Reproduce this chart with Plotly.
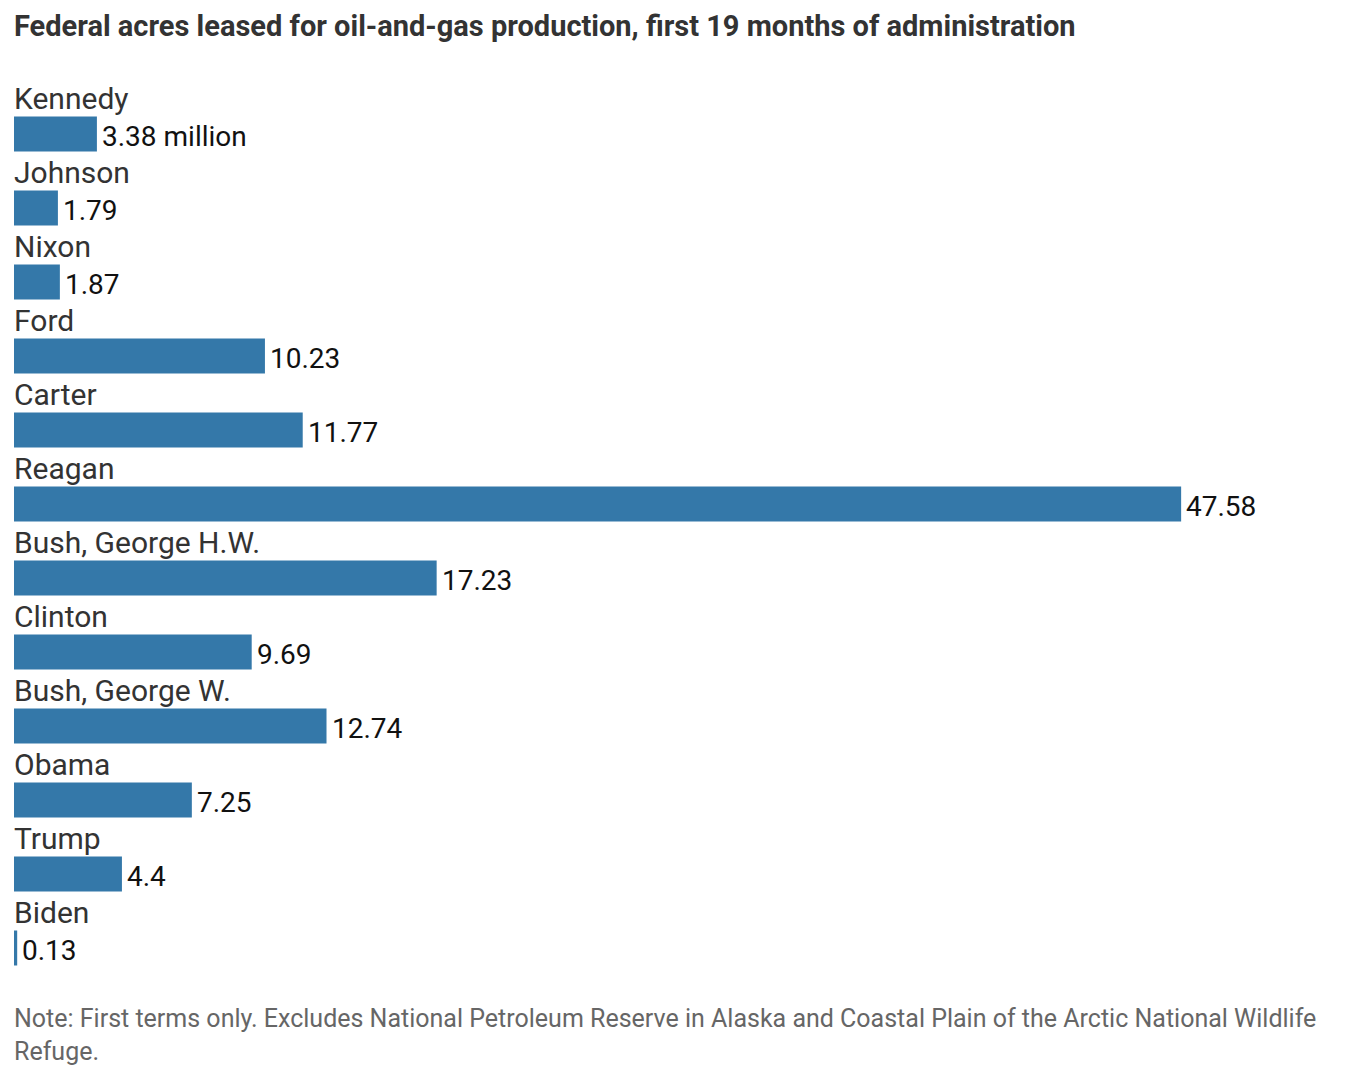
import plotly.graph_objects as go

presidents = ["Kennedy", "Johnson", "Nixon", "Ford", "Carter", "Reagan",
              "Bush, George H.W.", "Clinton", "Bush, George W.", "Obama", "Trump", "Biden"]
acres_millions = [3.38, 1.79, 1.87, 10.23, 11.77, 47.58, 17.23, 9.69, 12.74, 7.25, 4.4, 0.13]
value_labels = ["3.38 million", "1.79", "1.87", "10.23", "11.77", "47.58", "17.23",
                "9.69", "12.74", "7.25", "4.4", "0.13"]

title_text = "Federal acres leased for oil-and-gas production, first 19 months of administration"
note_text = ("Note: First terms only. Excludes National Petroleum Reserve in Alaska and Coastal Plain "
             "of the Arctic National Wildlife<br>Refuge.")

FONT = "Roboto"
BAR_COLOR = "#3478a9"

fig = go.Figure()
fig.add_trace(go.Bar(
    x=acres_millions,
    y=presidents,
    orientation="h",
    marker=dict(color=BAR_COLOR, line=dict(width=0)),
    hoverinfo="skip",
))

for name, val, lab in zip(presidents, acres_millions, value_labels):
    fig.add_annotation(
        x=0, y=name, xref="x", yref="y",
        text=name, showarrow=False,
        xanchor="left", yanchor="middle", yshift=36, xshift=-2,
        font=dict(family=FONT, size=30, color="#333333"),
    )
    fig.add_annotation(
        x=val, y=name, xref="x", yref="y",
        text=lab, showarrow=False,
        xanchor="left", yanchor="middle", yshift=-2, xshift=3,
        font=dict(family=FONT, size=28, color="#111111"),
    )

fig.add_annotation(
    x=0, y=1, xref="paper", yref="paper", xanchor="left", yanchor="top",
    text="<b>" + title_text + "</b>", showarrow=False, xshift=-2,
    yshift=90, font=dict(family=FONT, size=29, color="#333333"),
)
fig.add_annotation(
    x=0, y=0, xref="paper", yref="paper", xanchor="left", yanchor="top",
    text=note_text, showarrow=False, align="left", xshift=-2,
    yshift=-17, font=dict(family=FONT, size=25, color="#666666"),
)

fig.update_layout(
    width=1354, height=1080,
    margin=dict(l=14, r=0, t=97, b=95, pad=0, autoexpand=False),
    paper_bgcolor="white", plot_bgcolor="white",
    showlegend=False,
    bargap=0.527,
    xaxis=dict(range=[0, 1340 / 24.53], visible=False, fixedrange=True),
    yaxis=dict(range=[11.5, -0.5], visible=False, fixedrange=True),
)

fig.write_html("out.html")
